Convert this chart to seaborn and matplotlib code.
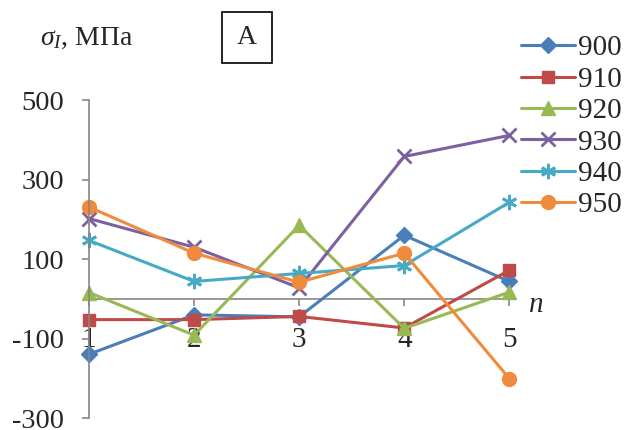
import matplotlib
matplotlib.use("Agg")
import matplotlib.pyplot as plt
from matplotlib.patches import Rectangle
import seaborn as sns
import pandas as pd

# categories (n) and series values, MPa
n = [1, 2, 3, 4, 5]
s900 = [-139, -40, -45, 160, 44]
s910 = [-52, -52, -44, -73, 72]
s920 = [16, -91, 185, -74, 17]
s930 = [202, 130, 28, 358, 411]
s940 = [147, 44, 64, 84, 243]
s950 = [231, 115, 42, 115, -200]

labels = ["900", "910", "920", "930", "940", "950"]
colors = ["#4A7EBB", "#BE4B48", "#98B954", "#7D60A0", "#46AAC5", "#F08A3C"]
markers = ["D", "s", "^", "x", (6, 2, 0), "o"]
msizes = [8, 9, 10, 10, 11, 10]

df = pd.DataFrame({"n": n, "900": s900, "910": s910, "920": s920,
                   "930": s930, "940": s940, "950": s950})

sns.set_style("white")
plt.rcParams["font.family"] = ["Liberation Serif", "DejaVu Serif"]
plt.rcParams["mathtext.fontset"] = "custom"
plt.rcParams["mathtext.rm"] = "Liberation Serif"
plt.rcParams["mathtext.it"] = "Liberation Serif:italic"
plt.rcParams["axes.unicode_minus"] = False

fig = plt.figure(figsize=(6.24, 4.30), dpi=100)
ax = fig.add_axes([89 / 624, 1 - 418.3 / 430, (509.3 - 89) / 624, (418.3 - 100) / 430])

for lab, col, mk, ms in zip(labels, colors, markers, msizes):
    sns.lineplot(data=df, x="n", y=lab, ax=ax, color=col, marker=mk,
                 markersize=ms, markeredgecolor=col, markeredgewidth=2 if mk in ("x", (6, 2, 0)) else 1,
                 linewidth=2.2, label=lab, clip_on=False)

ax.set_xlim(1, 5)
ax.set_ylim(-300, 500)
ax.set_yticks([-300, -100, 100, 300, 500])
ax.set_xticks(n)
ax.set_xticklabels([str(v) for v in n])
ax.set_xlabel("")
ax.set_ylabel("")

gray = "#868686"
for side in ["top", "right"]:
    ax.spines[side].set_visible(False)
ax.spines["bottom"].set_position(("data", 0))
ax.spines["bottom"].set_color(gray)
ax.spines["left"].set_color(gray)
ax.spines["bottom"].set_linewidth(1.2)
ax.spines["left"].set_linewidth(1.2)
ax.spines["bottom"].set_zorder(0)
ax.tick_params(axis="y", left=True, direction="out", length=5, width=1.2, color=gray,
               labelsize=20.5, pad=13)
ax.tick_params(axis="x", bottom=True, direction="out", length=5, width=1.2, color=gray,
               labelsize=21, pad=15)

ax.text(5.26, -16, "n", style="italic", fontsize=21, ha="center", va="center")

fig.text(40 / 624, 1 - 38 / 430, r"$\sigma_I$, МПа", fontsize=20, ha="left", va="center")
fig.patches.append(Rectangle((222 / 624, 1 - 63 / 430), 50 / 624, 51 / 430,
                             transform=fig.transFigure, fill=False, edgecolor="black",
                             linewidth=1.2))
fig.text(247 / 624, 1 - 38 / 430, "A", fontsize=20, ha="center", va="center")

ax.legend(loc="upper left", bbox_to_anchor=(521 / 624, 1 - 35 / 430),
          bbox_transform=fig.transFigure, frameon=False, fontsize=21,
          handlelength=1.85, labelspacing=0.17, handletextpad=0.1, borderaxespad=0,
          borderpad=0)

fig.savefig("out.png", dpi=100)
